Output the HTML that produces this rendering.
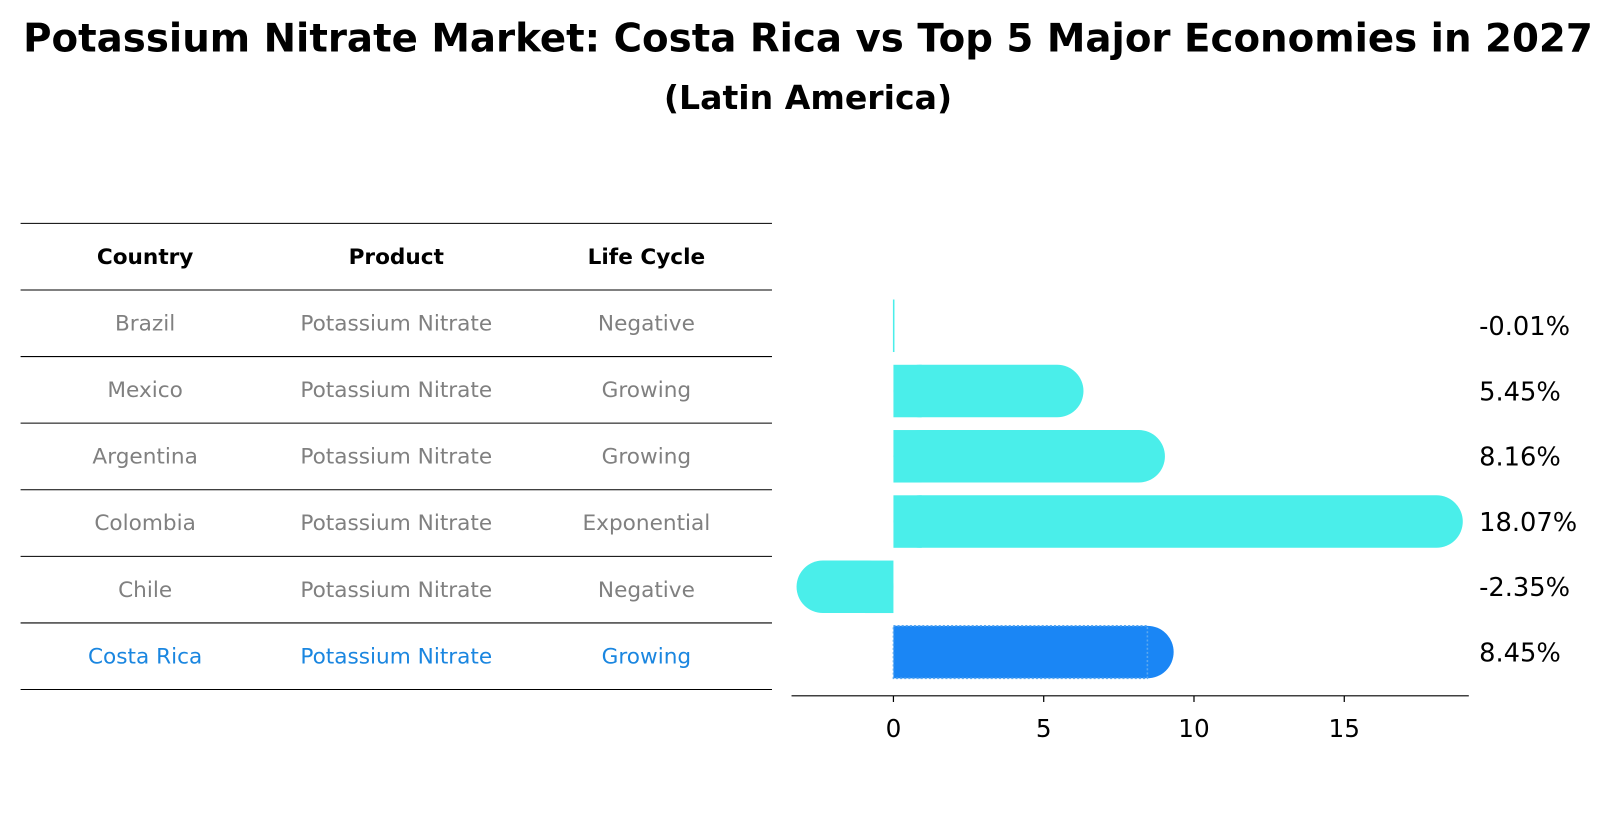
<!DOCTYPE html>
<html><head><meta charset="utf-8"><style>
body{margin:0;background:#fff;}
svg{display:block;font-family:"DejaVu Sans","Liberation Sans",sans-serif;}
</style></head><body>
<svg id="chart" width="1614" height="823" viewBox="0 0 1614 823">
<g transform="scale(1.0293)">
<text x="785" y="50" text-anchor="middle" font-size="38" font-weight="bold" textLength="1525" lengthAdjust="spacingAndGlyphs">Potassium Nitrate Market: Costa Rica vs Top 5 Major Economies in 2027</text>
<text x="785" y="106" text-anchor="middle" font-size="32" font-weight="bold" textLength="280" lengthAdjust="spacingAndGlyphs">(Latin America)</text>
<g id="table"></g>
<g id="bars"></g>
</g>
</svg>
<script>
const countries=["Brazil","Mexico","Argentina","Colombia","Chile","Costa Rica"];
const products=["Potassium Nitrate","Potassium Nitrate","Potassium Nitrate","Potassium Nitrate","Potassium Nitrate","Potassium Nitrate"];
const lifeCycles=["Negative","Growing","Growing","Exponential","Negative","Growing"];
const growth=[-0.01,5.45,8.16,18.07,-2.35,8.45];
const xTicks=[0,5,10,15];

const NS="http://www.w3.org/2000/svg";
function mk(tag,attrs,parent,text){const e=document.createElementNS(NS,tag);for(const k in attrs)e.setAttribute(k,attrs[k]);if(text!==undefined)e.textContent=text;parent.appendChild(e);return e;}
const tableG=document.getElementById('table');
const barsG=document.getElementById('bars');

const rowH=64.7, tableTop=217, cols=[141,385,628];
for(let i=0;i<=countries.length+1;i++){
  const l=mk('line',{x1:20,x2:750,y1:tableTop+i*rowH,y2:tableTop+i*rowH,stroke:'#000','stroke-width':1},tableG);
  
  
}
["Country","Product","Life Cycle"].forEach((h,j)=>{
  const t=mk('text',{x:cols[j],y:tableTop+rowH/2+7,'text-anchor':'middle','font-size':21,'font-weight':'bold'},tableG,h);
  
  
});
countries.forEach((c,i)=>{
  const col=(i===countries.length-1)?'#1a86e0':'#808080';
  [c,products[i],lifeCycles[i]].forEach((v,j)=>{
    const t=mk('text',{x:cols[j],y:tableTop+(i+1.5)*rowH+7,'text-anchor':'middle','font-size':21,fill:col},tableG,v);
    
    
  });
});

const x0=868, pxPer=29.2;
const xs=v=>x0+v*pxPer;
const rowY=i=>316.5+i*63.4;
const bh=51, r=25.5;
growth.forEach((v,i)=>{
  const cy=rowY(i), color=(i===growth.length-1)?'#1a86f5':'#4aeeea';
  const end=xs(v);
  const g=mk('g',{},barsG);
  
  
  if(Math.abs(v)>0.05){
    const len=Math.abs(end-x0);
    if(v>0){
      mk('rect',{x:x0,y:cy-bh/2,width:len+r,height:bh,rx:r,ry:r,fill:color},g);
      mk('rect',{x:x0,y:cy-bh/2,width:Math.min(len+r,r+2),height:bh,fill:color},g);
    }else{
      mk('rect',{x:end-r,y:cy-bh/2,width:len+r,height:bh,rx:r,ry:r,fill:color},g);
      const w=Math.min(len+r,r+2);
      mk('rect',{x:x0-w,y:cy-bh/2,width:w,height:bh,fill:color},g);
    }
  }else{
    mk('rect',{x:x0-0.5,y:cy-bh/2,width:1.5,height:bh,fill:color},g);
  }
  if(i===growth.length-1){
    mk('rect',{x:x0,y:cy-bh/2,width:end-x0,height:bh,fill:'none',stroke:'#5aa8f0','stroke-width':1.5,'stroke-dasharray':'2,2'},g);
  }
  const t=mk('text',{x:1437,y:cy+9,'font-size':25},barsG,v.toFixed(2)+'%');
  
  
});
const ax=mk('line',{x1:769,x2:1427,y1:676,y2:676,stroke:'#000','stroke-width':1.2},barsG);


xTicks.forEach(t=>{
  const tk=mk('line',{x1:xs(t),x2:xs(t),y1:676,y2:682,stroke:'#000','stroke-width':1.2},barsG);
  
  
  const tl=mk('text',{x:xs(t),y:716,'text-anchor':'middle','font-size':24},barsG,String(t));
  
  
});
</script>
</body></html>
